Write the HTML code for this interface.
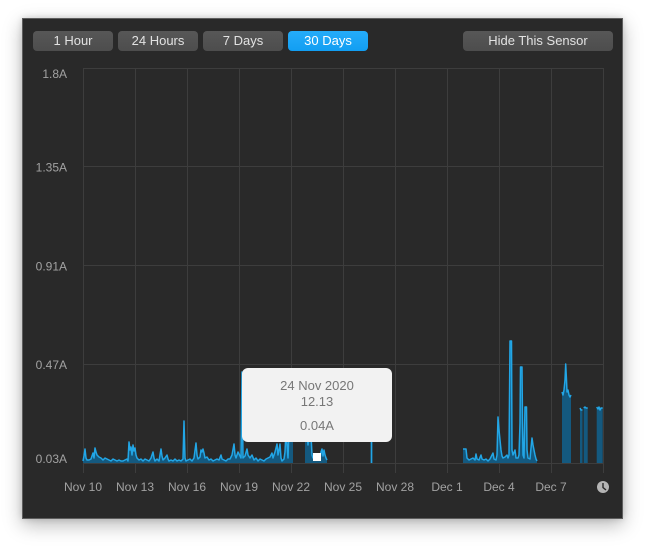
<!DOCTYPE html>
<html><head><meta charset="utf-8"><style>
html,body{margin:0;padding:0;background:#fff;width:646px;height:546px;overflow:hidden}
.win{position:absolute;left:22px;top:18px;width:599px;height:499px;background:#292929;border:1px solid #5e5e5e;box-shadow:0 6px 18px rgba(0,0,0,0.28),0 0 6px rgba(0,0,0,0.15)}
.btn{position:absolute;top:31px;height:20px;width:80px;border-radius:4px;background:linear-gradient(#575757,#4d4d4d);color:#e2e2e2;font:13px "Liberation Sans",sans-serif;line-height:20px;text-align:center}
.blue{background:linear-gradient(#25acfa,#129ef2);color:#fff}
svg{position:absolute;left:0;top:0}
</style></head><body>
<div class="win"></div>
<div class="btn" style="left:33px">1 Hour</div>
<div class="btn" style="left:118px">24 Hours</div>
<div class="btn" style="left:203px">7 Days</div>
<div class="btn blue" style="left:288px">30 Days</div>
<div class="btn" style="left:463px;width:150px">Hide This Sensor</div>
<svg width="646" height="546" viewBox="0 0 646 546" font-family="Liberation Sans, sans-serif">
<g stroke="#3d3d3d" stroke-width="1" fill="none">
<line x1="83" y1="68.5" x2="603" y2="68.5"/>
<line x1="83" y1="166.5" x2="603" y2="166.5"/>
<line x1="83" y1="265.5" x2="603" y2="265.5"/>
<line x1="83" y1="364.5" x2="603" y2="364.5"/>
<line x1="83" y1="463.5" x2="603" y2="463.5"/>
<line x1="83.5" y1="68" x2="83.5" y2="473"/>
<line x1="135.5" y1="68" x2="135.5" y2="473"/>
<line x1="187.5" y1="68" x2="187.5" y2="473"/>
<line x1="239.5" y1="68" x2="239.5" y2="473"/>
<line x1="291.5" y1="68" x2="291.5" y2="473"/>
<line x1="343.5" y1="68" x2="343.5" y2="473"/>
<line x1="395.5" y1="68" x2="395.5" y2="473"/>
<line x1="447.5" y1="68" x2="447.5" y2="473"/>
<line x1="499.5" y1="68" x2="499.5" y2="473"/>
<line x1="551.5" y1="68" x2="551.5" y2="473"/>
<line x1="603.5" y1="68" x2="603.5" y2="473"/>
</g>
<g fill="#a2a2a2" font-size="12" text-anchor="end">
<text x="67" y="78">1.8A</text>
<text x="67" y="171.5">1.35A</text>
<text x="67" y="270.5">0.91A</text>
<text x="67" y="369">0.47A</text>
<text x="67" y="463">0.03A</text>
</g>
<g fill="#a2a2a2" font-size="12" text-anchor="middle">
<text x="83" y="491">Nov 10</text>
<text x="135" y="491">Nov 13</text>
<text x="187" y="491">Nov 16</text>
<text x="239" y="491">Nov 19</text>
<text x="291" y="491">Nov 22</text>
<text x="343" y="491">Nov 25</text>
<text x="395" y="491">Nov 28</text>
<text x="447" y="491">Dec 1</text>
<text x="499" y="491">Dec 4</text>
<text x="551" y="491">Dec 7</text>
</g>
<circle cx="603" cy="487" r="6" fill="#b4b4b4"/>
<path d="M603 483 V487.5 L606 490" stroke="#292929" stroke-width="1.4" fill="none"/>
<g fill="#14597f" stroke="none">
<path d="M83,463 L83,461 84,456 85,449 86,458 87,460 89,460 91,459 93,453 94,458 95,448 96,452 97,455 99,457 101,458 103,460 105,458 107,459 109,460 111,461 113,459 115,460 117,461 119,460 121,461 123,461 125,460 127,459 128,461 129,442 130,450 131,447 132,455 133,445 134,451 135,448 136,455 137,458 139,460 141,459 143,461 145,459 147,460 149,461 151,458 153,452 154,458 155,461 157,459 159,461 161,449 162,456 163,460 165,458 167,455 168,459 169,461 171,460 173,461 175,459 177,461 179,460 181,461 183,459 184,421 185,458 186,461 188,460 190,459 192,461 194,458 196,443 197,455 198,459 200,457 201,450 202,452 203,449 204,453 205,458 207,457 209,460 211,459 213,461 215,460 217,459 219,460 221,455 222,459 224,460 226,461 228,459 230,459 232,455 234,444 235,455 236,458 238,452 240,456 241,458 242,372 243,458 245,456 247,449 248,455 250,458 252,455 254,460 256,458 258,461 260,459 262,460 264,461 266,459 268,458 270,457 272,453 273,458 275,452 276,448 277,444 278,455 279,450 280,444 281,458 282,461 284,459 285,452 286,430 287,445 288,458 289,430 290,430 291,435 292,430 293,440 293,463 Z"/>
<path d="M305,463 L305,430 307,430 308,445 309,430 311,435 312,455 313,458 315,459 317,460 319,458 320,459 321,452 322,449 323,456 324,450 325,455 326,458 327,460 327,463 Z"/>
<path d="M370.5,463 L370.5,430 372.5,430 372.5,463 Z"/>
<path d="M463,463 L463,449 466,449 467,458 469,460 471,459 473,458 475,460 476,454 477,459 479,460 481,455 482,459 484,460 486,459 488,461 490,459 492,455 493,453 494,459 496,460 497,455 498,417 499,430 500,440 501,450 502,456 503,458 505,457 507,455 508,458 509,455 510,341 511.5,341 512,450 513,455 515,450 516,458 518,458 519,455 520,423 520.5,367 522,367 522.5,423 523,455 524,458 525,407 526.5,407 527,450 528,458 530,459 531,448 532,438 533,445 534,450 535,455 536,459 537,461 537,463 Z"/>
<path d="M562,463 L562,392 563,395 564,390 565,380 565.7,364 566.5,380 567,392 568,390 569,395 570,397 571,395 571,463 Z"/>
<path d="M580,463 L580,408 581,410 582.5,410 582.5,463 Z"/>
<path d="M583.7,463 L583.7,408 585,407 586,408 587.7,408 587.7,463 Z"/>
<path d="M596.7,463 L596.7,407 598,409 599,407 600,410 601,408 602.7,408 602.7,463 Z"/>
</g>
<g fill="none" stroke="#22a6e6" stroke-width="1.5" stroke-linejoin="round">
<polyline points="83,461 84,456 85,449 86,458 87,460 89,460 91,459 93,453 94,458 95,448 96,452 97,455 99,457 101,458 103,460 105,458 107,459 109,460 111,461 113,459 115,460 117,461 119,460 121,461 123,461 125,460 127,459 128,461 129,442 130,450 131,447 132,455 133,445 134,451 135,448 136,455 137,458 139,460 141,459 143,461 145,459 147,460 149,461 151,458 153,452 154,458 155,461 157,459 159,461 161,449 162,456 163,460 165,458 167,455 168,459 169,461 171,460 173,461 175,459 177,461 179,460 181,461 183,459 184,421 185,458 186,461 188,460 190,459 192,461 194,458 196,443 197,455 198,459 200,457 201,450 202,452 203,449 204,453 205,458 207,457 209,460 211,459 213,461 215,460 217,459 219,460 221,455 222,459 224,460 226,461 228,459 230,459 232,455 234,444 235,455 236,458 238,452 240,456 241,458 242,372 243,458 245,456 247,449 248,455 250,458 252,455 254,460 256,458 258,461 260,459 262,460 264,461 266,459 268,458 270,457 272,453 273,458 275,452 276,448 277,444 278,455 279,450 280,444 281,458 282,461 284,459 285,452 286,430 287,445 288,458 289,430 290,430 291,435 292,430 293,440"/>
<polyline points="305,430 307,430 308,445 309,430 311,435 312,455 313,458 315,459 317,460 319,458 320,459 321,452 322,449 323,456 324,450 325,455 326,458 327,460"/>
<polyline points="371.5,463 371.5,430"/>
<polyline points="463,449 466,449 467,458 469,460 471,459 473,458 475,460 476,454 477,459 479,460 481,455 482,459 484,460 486,459 488,461 490,459 492,455 493,453 494,459 496,460 497,455 498,417 499,430 500,440 501,450 502,456 503,458 505,457 507,455 508,458 509,455 510,341 511.5,341 512,450 513,455 515,450 516,458 518,458 519,455 520,423 520.5,367 522,367 522.5,423 523,455 524,458 525,407 526.5,407 527,450 528,458 530,459 531,448 532,438 533,445 534,450 535,455 536,459 537,461"/>
<polyline points="562,392 563,395 564,390 565,380 565.7,364 566.5,380 567,392 568,390 569,395 570,397 571,395"/>
<polyline points="580,408 581,410 582.5,410"/>
<polyline points="583.7,408 585,407 586,408 587.7,408"/>
<polyline points="596.7,407 598,409 599,407 600,410 601,408 602.7,408"/>
</g>
<rect x="242" y="368" width="150" height="74" rx="6" fill="#f2f2f2"/>
<g fill="#777" font-size="13" text-anchor="middle">
<text x="317" y="390">24 Nov 2020</text>
<text x="317" y="406">12.13</text>
<text x="317" y="430">0.04A</text>
</g>
<rect x="313" y="453" width="8" height="8" fill="#fff"/>
</svg>
</body></html>
